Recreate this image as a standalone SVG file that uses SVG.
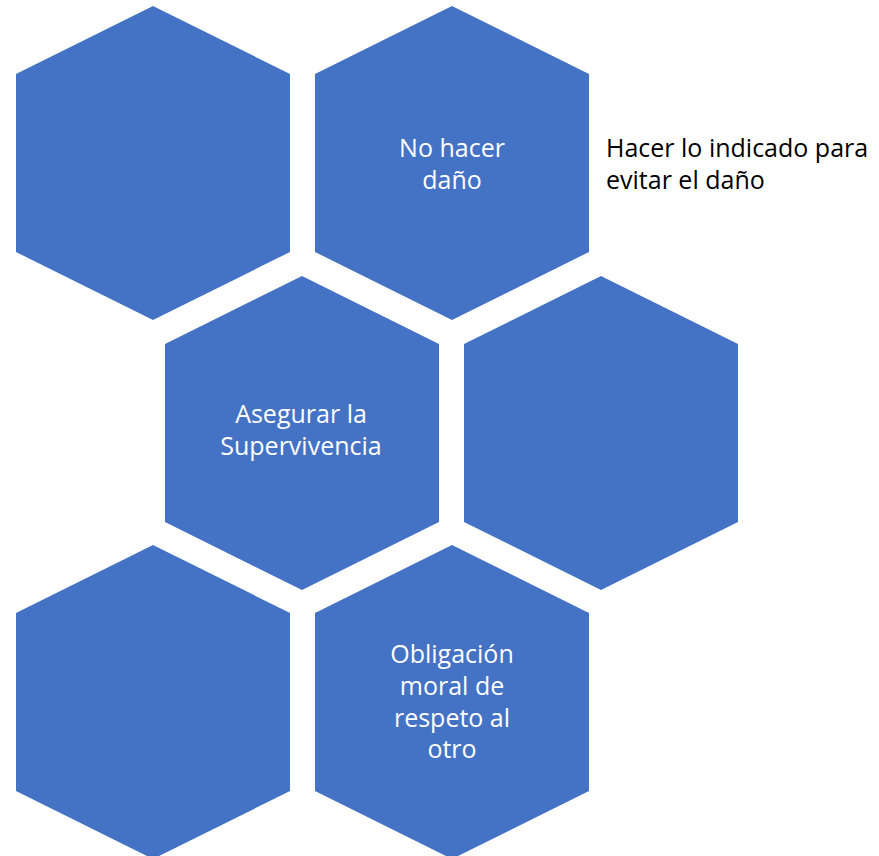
<svg xmlns="http://www.w3.org/2000/svg" width="879" height="856" viewBox="0 0 879 856">
<defs>
<style>
.hex{fill:#4472C4;}
.t{font-family:"Open Sans","Liberation Sans",sans-serif;font-size:25px;fill:#FFFFFF;text-anchor:middle;}
.side{font-family:"Open Sans","Liberation Sans",sans-serif;font-size:25px;fill:#000000;}
</style>
<polygon id="hexshape" points="0,-157 137,-89 137,89 0,157 -137,89 -137,-89"/>
</defs>
<rect width="879" height="856" fill="#FFFFFF"/>
<g id="hex1"><use href="#hexshape" class="hex" x="153" y="163"/></g>
<g id="hex2"><use href="#hexshape" class="hex" x="452" y="163"/>
<text class="t"><tspan x="452" y="157">No hacer</tspan><tspan x="452" y="189">daño</tspan></text></g>
<g id="hex3"><use href="#hexshape" class="hex" x="302" y="433"/>
<text class="t"><tspan x="301" y="423">Asegurar la</tspan><tspan x="301" y="455">Supervivencia</tspan></text></g>
<g id="hex4"><use href="#hexshape" class="hex" x="601" y="433"/></g>
<g id="hex5"><use href="#hexshape" class="hex" x="153" y="702"/></g>
<g id="hex6"><use href="#hexshape" class="hex" x="452" y="702"/>
<text class="t"><tspan x="452" y="663">Obligación</tspan><tspan x="452" y="695">moral de</tspan><tspan x="452" y="727">respeto al</tspan><tspan x="452" y="758">otro</tspan></text></g>
<g id="label"><text class="side"><tspan x="606" y="157">Hacer lo indicado para</tspan><tspan x="606" y="189">evitar el daño</tspan></text></g>
<g id="connectors"></g>
</svg>
